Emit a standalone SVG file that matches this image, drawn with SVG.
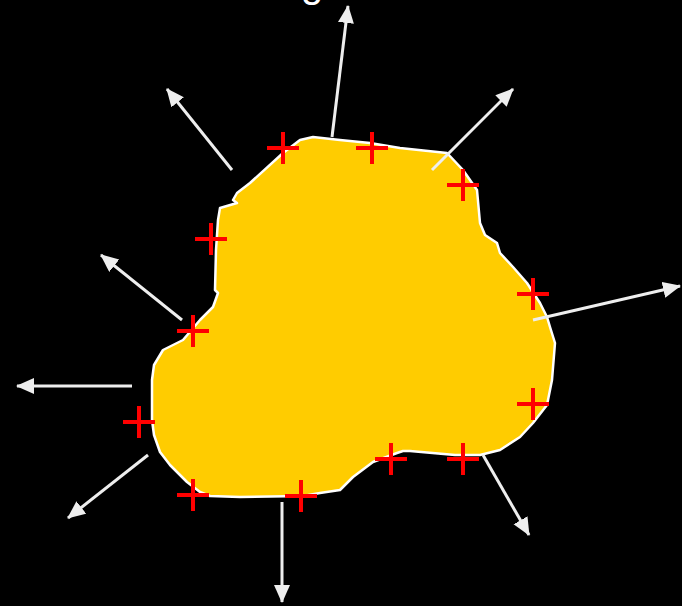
<svg xmlns="http://www.w3.org/2000/svg" width="682" height="606" viewBox="0 0 682 606">
<style>
.arrow{stroke:#eeeeee;stroke-width:3;fill:none;marker-end:url(#ah)}
.cross{stroke:#ff0000;stroke-width:4;fill:none}
.blob{fill:#ffcc00;stroke:#ffffff;stroke-width:2.5;stroke-linejoin:round}
.title{fill:#ffffff;font-family:"Liberation Sans",Arial,sans-serif;font-size:40px}
</style>
<defs>
<marker id="ah" markerUnits="userSpaceOnUse" markerWidth="19" markerHeight="17" refX="17" refY="8" orient="auto">
<path d="M0,0 L18,8 L0,16 Z" fill="#eeeeee"/>
</marker>
<g id="plus"><path class="cross" d="M-16,0 H16 M0,-16 V16"/></g>
</defs>
<rect x="0" y="0" width="682" height="606" fill="#000000"/>
<text class="title" x="312" y="-3" text-anchor="middle">g</text>
<g id="region">
<path class="blob" d="M300,140 L313,137 L340,140 L370,143 L400,148 L447,153 L463,170 L477,190 L480,223 L485,235 L497,243 L500,253 L513,267 L527,283 L540,303 L547,317 L550,327 L555,343 L552,380 L547,405 L533,423 L520,437 L500,450 L480,455 L455,455 L410,451 L403,451 L397,453 L373,462 L353,477 L340,490 L320,493 L303,496 L240,497 L210,496 L200,492 L187,482 L170,465 L160,452 L154,435 L152,420 L152,380 L154,365 L163,350 L183,340 L200,320 L213,307 L218,293 L215,290 L216,250 L218,220 L220,208 L237,203 L233,200 L237,193 L250,183 L283,153 Z"/>
</g>
<g id="connectors">
<line class="arrow" x1="332" y1="137" x2="348" y2="6"/>
<line class="arrow" x1="232" y1="170" x2="167" y2="89"/>
<line class="arrow" x1="432" y1="170" x2="513" y2="89"/>
<line class="arrow" x1="182" y1="320" x2="101" y2="255"/>
<line class="arrow" x1="132" y1="386" x2="17" y2="386"/>
<line class="arrow" x1="148" y1="455" x2="68" y2="518"/>
<line class="arrow" x1="282" y1="502" x2="282" y2="602"/>
<line class="arrow" x1="483" y1="455" x2="529" y2="535"/>
<line class="arrow" x1="533" y1="320" x2="680" y2="286"/>
</g>
<g id="points">
<use href="#plus" x="283" y="148"/>
<use href="#plus" x="372" y="148"/>
<use href="#plus" x="463" y="185"/>
<use href="#plus" x="211" y="239"/>
<use href="#plus" x="193" y="331"/>
<use href="#plus" x="533" y="294"/>
<use href="#plus" x="533" y="404"/>
<use href="#plus" x="139" y="422"/>
<use href="#plus" x="193" y="495"/>
<use href="#plus" x="301" y="496"/>
<use href="#plus" x="391" y="459"/>
<use href="#plus" x="463" y="459"/>
</g>
</svg>
